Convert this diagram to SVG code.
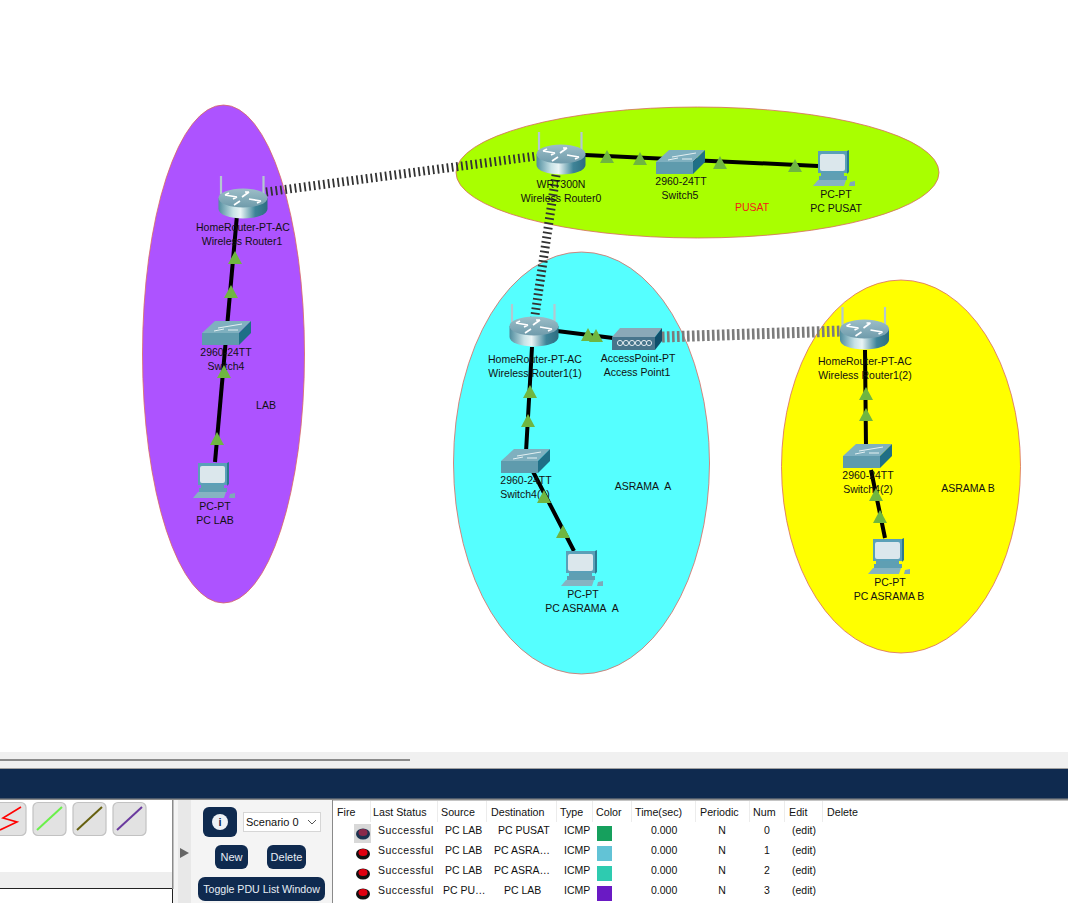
<svg xmlns="http://www.w3.org/2000/svg" width="1068" height="903" viewBox="0 0 1068 903">
<style>
text{font-family:"Liberation Sans",Arial,sans-serif;font-size:10.5px;fill:#111}
.c{text-anchor:middle}
.area{stroke:#d9685f;stroke-width:.8}
.wire{fill:none;stroke:#000;stroke-width:4}
.wl{fill:none;stroke:#333;stroke-width:9;stroke-dasharray:1.800 3}
.wl2{fill:none;stroke:#7c7c7c;stroke-width:11;stroke-dasharray:2.600 2.400}
.tri{fill:#6fb641}
.th{font-size:10.7px}
.ok{letter-spacing:.5px}
.btn{fill:#0f2a4f}
.bt{fill:#e8eef5;font-size:11px;text-anchor:middle}
.tile{fill:#e2e2e2;stroke:#c2c2c2;stroke-width:1.2}
.sep{stroke:#ececec;stroke-width:1}
</style>
<defs>
<linearGradient id="cyl" x1="0" x2="1" y1="0" y2="0"><stop offset="0" stop-color="#4f8c9e"/><stop offset=".3" stop-color="#c8e2e6"/><stop offset=".45" stop-color="#e9f4f5"/><stop offset=".75" stop-color="#3f8498"/><stop offset="1" stop-color="#2d6d80"/></linearGradient>
<linearGradient id="cap" x1="0" x2="0" y1="0" y2="1"><stop offset="0" stop-color="#9dbec8"/><stop offset="1" stop-color="#6f9bab"/></linearGradient>
<g id="router">
<path d="M-22-22V-4M20.500-22V-4" stroke="#b4c8d0" stroke-width="2.200" fill="none"/>
<path d="M-24.500 0V11A24.500 9.500 0 0 0 24.500 11V0Z" fill="url(#cyl)"/>
<ellipse rx="24.500" ry="9.500" fill="url(#cap)"/>
<path d="M-18-3L-6-1M6-6L-1-1M6 1L18 3M-3 3L-9 7M-18-3L-14-5M-6-1L-10 1M6-6L2-6M18 3L14 5" stroke="#fff" stroke-width="1.700" fill="none"/>
</g>
<g id="switch">
<path d="M0 12L13 0H49L37 12Z" fill="#7fb0bf"/>
<path d="M0 12H37V24H0Z" fill="#5f9bad"/>
<path d="M37 12L49 0V12L37 24Z" fill="#1f6f86"/>
<path d="M16 7L40 3M12 10L22 8M26 9H36" stroke="#e4f0f2" stroke-width="1"/>
</g>
<g id="ap">
<path d="M0 9H43V22H0Z" fill="#47758c"/>
<path d="M0 9L8 0H50L43 9Z" fill="#8aa9b8"/>
<path d="M43 9L50 0V13L43 22Z" fill="#0f4f6b"/>
<g fill="none" stroke="#dfe9ee" stroke-width="1"><circle cx="8" cy="15" r="2.600"/><circle cx="14" cy="15" r="2.600"/><circle cx="20" cy="15" r="2.600"/><circle cx="26" cy="15" r="2.600"/><circle cx="32" cy="15" r="2.600"/><circle cx="37" cy="15" r="2.600"/></g>
</g>
<g id="pc">
<path d="M5 0H34V22H5Z" fill="#5aa0b8"/>
<path d="M34 0L36 -1V21L34 23Z" fill="#2b7890"/>
<rect x="7" y="3" width="25" height="17" rx="2" fill="#dbe7ec"/>
<path d="M8 22H31V25H34V29H6V25H8Z" fill="#5f9fb3"/>
<path d="M5 29H33L31 35H0Z" fill="#86b3c2"/>
<path d="M37 31L42 30V35H36Z" fill="#7fa9b8"/>
</g>
</defs>
<rect width="1068" height="903" fill="#fff"/>

<g id="areas">
<ellipse class="area" cx="223.500" cy="354" rx="81" ry="249" fill="#ad53ff"/>
<ellipse class="area" cx="697.500" cy="172.500" rx="241.500" ry="65.500" fill="#a9ff00"/>
<ellipse class="area" cx="581.500" cy="463" rx="128" ry="211" fill="#55ffff"/>
<ellipse class="area" cx="901" cy="466.500" rx="119.500" ry="186.500" fill="#ffff00"/>
<text x="266" y="409" class="c">LAB</text>
<text x="752" y="211" class="c" style="fill:#f21a1a">PUSAT</text>
<text x="643" y="490" class="c">ASRAMA&#160; A</text>
<text x="968" y="492" class="c">ASRAMA B</text>
</g>

<g id="connectors">
<path class="wl" d="M266 192L537 156"/>
<path class="wl" d="M556 175L534 322"/>
<path class="wl2" d="M662 337L842 331"/>
<path class="wire" d="M237 215L215 462"/>
<path class="wire" d="M585 155L818 166"/>
<path class="wire" d="M557 331L613 338"/>
<path class="wire" d="M532 347L526 452M527 460L574 551"/>
<path class="wire" d="M865 350L866 447M871 470L885 538"/>
</g>

<g id="router1"><use href="#router" x="243" y="198"/><text x="243" y="231" class="c">HomeRouter-PT-AC</text><text x="242" y="245" class="c">Wireless Router1</text></g>
<g id="switch4"><use href="#switch" x="202" y="321"/><text x="226" y="356" class="c">2960-24TT</text><text x="226" y="370" class="c">Switch4</text></g>
<g id="pclab"><use href="#pc" x="193" y="463"/><text x="215" y="510" class="c">PC-PT</text><text x="215" y="524" class="c">PC LAB</text></g>
<g id="router0"><use href="#router" x="561" y="154"/><text x="561" y="188" class="c">WRT300N</text><text x="561" y="202" class="c">Wireless Router0</text></g>
<g id="switch5"><use href="#switch" x="656" y="150"/><text x="681" y="185" class="c">2960-24TT</text><text x="680" y="199" class="c">Switch5</text></g>
<g id="pcpusat"><use href="#pc" x="813" y="151"/><text x="836" y="198" class="c">PC-PT</text><text x="836" y="212" class="c">PC PUSAT</text></g>
<g id="router11"><use href="#router" x="534" y="326"/><text x="535" y="363" class="c">HomeRouter-PT-AC</text><text x="535" y="377" class="c">Wireless Router1(1)</text></g>
<g id="ap1"><use href="#ap" x="612" y="328"/><text x="638" y="362" class="c">AccessPoint-PT</text><text x="637" y="376" class="c">Access Point1</text></g>
<g id="switch41"><use href="#switch" x="501" y="449"/><text x="526" y="484" class="c">2960-24TT</text><text x="525" y="498" class="c">Switch4(1)</text></g>
<g id="pca"><use href="#pc" x="561" y="551"/><text x="583" y="598" class="c">PC-PT</text><text x="582" y="612" class="c">PC ASRAMA&#160; A</text></g>
<g id="router12"><use href="#router" x="864.500" y="329"/><text x="865" y="365" class="c">HomeRouter-PT-AC</text><text x="865" y="379" class="c">Wireless Router1(2)</text></g>
<g id="switch42"><use href="#switch" x="843" y="444"/><text x="868" y="479" class="c">2960-24TT</text><text x="868" y="493" class="c">Switch4(2)</text></g>
<g id="pcb"><use href="#pc" x="868" y="539"/><text x="890" y="586" class="c">PC-PT</text><text x="889" y="600" class="c">PC ASRAMA B</text></g>

<g id="link-lights" class="tri">
<path d="M235 251l7 13h-14z"/><path d="M231 285l7 13h-14z"/><path d="M224 365l7 13h-14z"/><path d="M217 432l7 13h-14z"/>
<path d="M607 150l7 13h-14z"/><path d="M640 152l7 13h-14z"/><path d="M720 156l7 13h-14z"/><path d="M795 159l7 13h-14z"/>
<path d="M588 328l7 13h-14z"/><path d="M596 329l7 13h-14z"/>
<path d="M530 385l7 13h-14z"/><path d="M528 414l7 13h-14z"/><path d="M544 490l7 13h-14z"/><path d="M563 525l7 13h-14z"/>
<path d="M866 387l7 13h-14z"/><path d="M866 408l7 13h-14z"/><path d="M876 488l7 13h-14z"/><path d="M880 510l7 13h-14z"/>
</g>

<g id="toolbar">
<rect x="0" y="752" width="1068" height="17" fill="#f0f0f0"/>
<rect x="0" y="759" width="410" height="2" fill="#8a8a8a"/>
<rect x="0" y="768" width="1068" height="1" fill="#a0a0a0"/>
<rect x="0" y="769" width="1068" height="30" fill="#0f2a4f"/>
<rect x="0" y="799" width="1068" height="104" fill="#fff"/>
<rect x="172" y="799" width="160" height="104" fill="#f4f4f4"/>
<rect x="0" y="798.500" width="1068" height="1.500" fill="#8a8a8a"/>
<rect x="0" y="872" width="172" height="17" fill="#eeeeee"/>
<rect x="-2" y="888.500" width="174.500" height="20" fill="#fff" stroke="#222"/>
<rect x="172" y="799" width="1.500" height="90" fill="#8a8a8a"/>
<rect x="178" y="800" width="13" height="103" fill="#e8e8e8"/>
<path d="M180 848l9 5-9 5z" fill="#666"/>
<rect class="tile" x="-8" y="802.500" width="34" height="33" rx="5"/>
<path d="M21 807L3 818L17 822L0 830" fill="none" stroke="#f00" stroke-width="1.600"/>
<rect class="tile" x="33" y="802.500" width="33" height="33" rx="5"/>
<path d="M37 830L62 807" stroke="#6af04a" stroke-width="2"/>
<rect class="tile" x="73" y="802.500" width="33" height="33" rx="5"/>
<path d="M77 830L102 807" stroke="#66600f" stroke-width="2"/>
<rect class="tile" x="113" y="802.500" width="33" height="33" rx="5"/>
<path d="M117 830L142 807" stroke="#6a3a9e" stroke-width="2"/>
<rect class="btn" x="203" y="807" width="34" height="30" rx="6"/>
<circle cx="220" cy="822" r="8" fill="#eef2f6"/>
<text x="220" y="826" class="c" style="fill:#0f2a4f;font-weight:bold;font-size:11px">i</text>
<rect x="243.500" y="812.500" width="77" height="19" fill="#fff" stroke="#d6d6d6"/>
<text x="246" y="826" style="font-size:11px">Scenario 0</text>
<path d="M308 820l4 4 4-4" fill="none" stroke="#555"/>
<rect class="btn" x="215" y="845" width="33" height="24" rx="6"/>
<text class="bt" x="231.500" y="861">New</text>
<rect class="btn" x="267" y="845" width="39" height="24" rx="6"/>
<text class="bt" x="286.500" y="861">Delete</text>
<rect class="btn" x="198" y="877" width="127" height="24" rx="7"/>
<text class="bt" x="261.500" y="893" style="font-size:10.6px">Toggle PDU List Window</text>
</g>

<g id="pdu-table">
<path d="M332.500 903V800H1068" fill="#fff" stroke="#8a8a8a"/>
<path class="sep" d="M370.500 801V822M437.500 801V822M486.500 801V822M556.500 801V822M592.500 801V822M631.500 801V822M695.500 801V822M749.500 801V822M784.500 801V822M822.500 801V822"/>
<text class="th" x="337" y="816">Fire</text><text class="th" x="373" y="816">Last Status</text><text class="th" x="441" y="816">Source</text><text class="th" x="491" y="816">Destination</text><text class="th" x="560" y="816">Type</text><text class="th" x="596" y="816">Color</text><text class="th" x="635" y="816">Time(sec)</text><text class="th" x="700" y="816">Periodic</text><text class="th" x="753" y="816">Num</text><text class="th" x="789" y="816">Edit</text><text class="th" x="827" y="816">Delete</text>
<rect x="354" y="824" width="17" height="19" fill="#d8d8d8"/>
<g fill="#111"><ellipse cx="363" cy="834" rx="7" ry="5.500" fill="#1c3350"/><ellipse cx="363" cy="854" rx="7" ry="5.500"/><ellipse cx="363" cy="874" rx="7" ry="5.500"/><ellipse cx="363" cy="894" rx="7" ry="5.500"/></g>
<g fill="#e00010"><ellipse cx="363" cy="832.500" rx="4.500" ry="3.500" fill="#8a2a4a"/><ellipse cx="363" cy="852.500" rx="4.500" ry="3.500"/><ellipse cx="363" cy="872.500" rx="4.500" ry="3.500"/><ellipse cx="363" cy="892.500" rx="4.500" ry="3.500"/></g>
<text class="ok" x="378" y="834">Successful</text><text x="445" y="834">PC LAB</text><text x="498" y="834">PC PUSAT</text><text x="564" y="834">ICMP</text><text x="651" y="834">0.000</text><text x="722" y="834" class="c">N</text><text x="767" y="834" class="c">0</text><text x="792" y="834">(edit)</text>
<text class="ok" x="378" y="854">Successful</text><text x="445" y="854">PC LAB</text><text x="494" y="854">PC ASRA…</text><text x="564" y="854">ICMP</text><text x="651" y="854">0.000</text><text x="722" y="854" class="c">N</text><text x="767" y="854" class="c">1</text><text x="792" y="854">(edit)</text>
<text class="ok" x="378" y="874">Successful</text><text x="445" y="874">PC LAB</text><text x="494" y="874">PC ASRA…</text><text x="564" y="874">ICMP</text><text x="651" y="874">0.000</text><text x="722" y="874" class="c">N</text><text x="767" y="874" class="c">2</text><text x="792" y="874">(edit)</text>
<text class="ok" x="378" y="894">Successful</text><text x="443" y="894">PC PU…</text><text x="504" y="894">PC LAB</text><text x="564" y="894">ICMP</text><text x="651" y="894">0.000</text><text x="722" y="894" class="c">N</text><text x="767" y="894" class="c">3</text><text x="792" y="894">(edit)</text>
<rect x="597" y="826" width="15" height="15" fill="#16a05d"/><rect x="597" y="846" width="15" height="15" fill="#62c3d6"/><rect x="597" y="866" width="15" height="15" fill="#2ecbb0"/><rect x="597" y="886" width="15" height="15" fill="#6a1ac4"/>
</g>
</svg>
